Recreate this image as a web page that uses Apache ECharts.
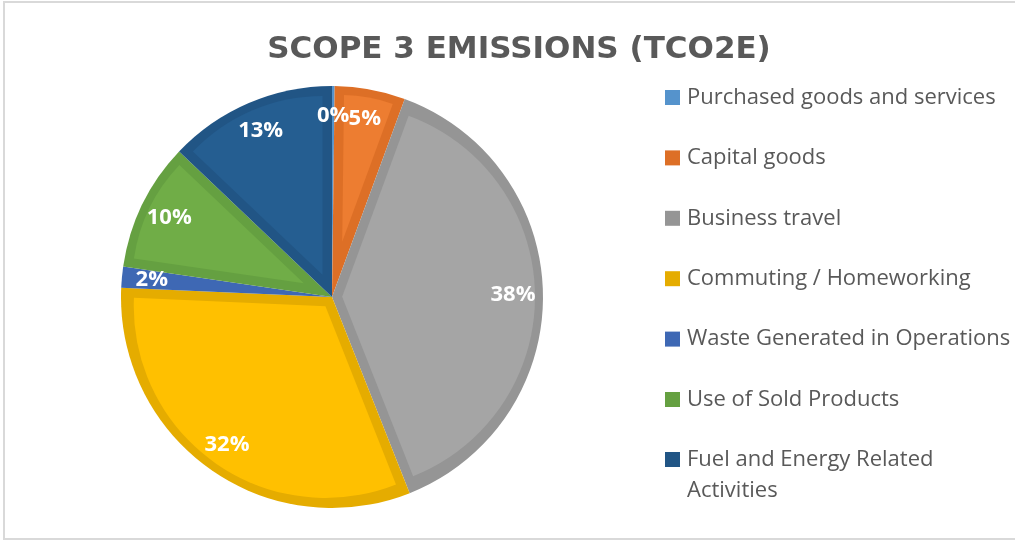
<!DOCTYPE html>
<html>
<head>
<meta charset="utf-8">
<script src="https://cdn.jsdelivr.net/npm/echarts@6/dist/echarts.min.js"></script>
<style>
html,body{margin:0;padding:0;background:#fff;}
#chart{width:1015px;height:541px;}
</style>
</head>
<body>
<div id="chart"></div>
<script>
const titleText = 'SCOPE 3 EMISSIONS (TCO2E)';
const categories = [
  'Purchased goods and services',
  'Capital goods',
  'Business travel',
  'Commuting / Homeworking',
  'Waste Generated in Operations',
  'Use of Sold Products',
  'Fuel and Energy Related Activities'
];
const values = [0.2, 5.4, 38.4, 31.7, 1.6, 9.8, 12.9];
const fillColors = ['#5B9BD5', '#ED7D31', '#A5A5A5', '#FFC000', '#4472C4', '#70AD47', '#255E91'];
const edgeColors = ['#5593CC', '#DD6F26', '#959595', '#E5AC00', '#3E68B4', '#65A041', '#215585'];

const chart = echarts.init(document.getElementById('chart'), null, {renderer: 'canvas'});

const center = [332, 297];
const R = 211;          // outer radius
const edgeSide = 9.5;   // width of the darker outline along radial edges
const edgeArc = 8;      // width of the darker outline along the arc
const font = '"Open Sans", "Noto Sans", sans-serif';
const total = values.reduce((a, b) => a + b, 0);

// Darker full pie (outline colour), then one lighter inset slice per category
const series = [{
  name: 'edge',
  type: 'pie',
  center: center,
  radius: [0, R],
  startAngle: 90,
  clockwise: true,
  silent: true,
  label: {show: false},
  labelLine: {show: false},
  data: categories.map((c, i) => ({name: c, value: values[i], itemStyle: {color: edgeColors[i]}}))
}];

categories.forEach((cat, i) => {
  const half = Math.PI * values[i] / total;
  const offset = edgeSide / Math.sin(half);
  const r = R - edgeArc - offset;
  if (r < 20) return; // too thin to show an inner fill
  series.push({
    name: 'fill-' + i,
    type: 'pie',
    center: center,
    radius: [0, r],
    startAngle: 90,
    clockwise: true,
    silent: true,
    selectedMode: 'multiple',
    selectedOffset: offset,
    label: {show: false},
    labelLine: {show: false},
    emphasis: {disabled: true},
    data: categories.map((c, j) => ({
      name: c,
      value: values[j],
      selected: j === i,
      itemStyle: {color: j === i ? fillColors[j] : 'rgba(0,0,0,0)'}
    }))
  });
});

series.push({
  name: 'labels',
  type: 'pie',
  center: center,
  radius: [145, R],
  startAngle: 90,
  clockwise: true,
  silent: true,
  avoidLabelOverlap: false,
  percentPrecision: 0,
  itemStyle: {color: 'rgba(0,0,0,0)'},
  label: {
    show: true,
    position: 'inside',
    formatter: '{d}%',
    fontFamily: font,
    fontWeight: 'bold',
    fontSize: 22,
    color: '#ffffff'
  },
  labelLayout: {hideOverlap: false},
  labelLine: {show: false},
  data: categories.map((c, i) => ({name: c, value: values[i]}))
});

const legendText = {fontFamily: font, fontSize: 22, color: '#595959', lineHeight: 31, padding: [0, 0, 0, 2]};

const option = {
  animation: false,
  backgroundColor: '#ffffff',
  title: {
    text: titleText,
    left: 514,
    textAlign: 'center',
    top: 29.5,
    textStyle: {fontFamily: '"DejaVu Sans", sans-serif', fontWeight: 'bold', fontSize: 31, color: '#595959'}
  },
  graphic: [{
    type: 'rect', shape: {x: 4, y: 2, width: 1030, height: 537},
    style: {fill: 'none', stroke: '#D9D9D9', lineWidth: 2}, silent: true, z: -10
  }],
  legend: [{
    orient: 'vertical',
    left: 660,
    top: 77,
    itemWidth: 15,
    itemHeight: 15,
    itemGap: 29.4,
    icon: 'rect',
    selectedMode: false,
    data: categories.slice(0, 6),
    textStyle: legendText
  }, {
    orient: 'vertical',
    left: 660,
    top: 408,
    itemWidth: 15,
    itemHeight: 15,
    icon: 'rect',
    selectedMode: false,
    data: categories.slice(6),
    formatter: function () { return '\nFuel and Energy Related\nActivities'; },
    textStyle: legendText
  }],
  series: series
};
chart.setOption(option);
</script>
</body>
</html>
